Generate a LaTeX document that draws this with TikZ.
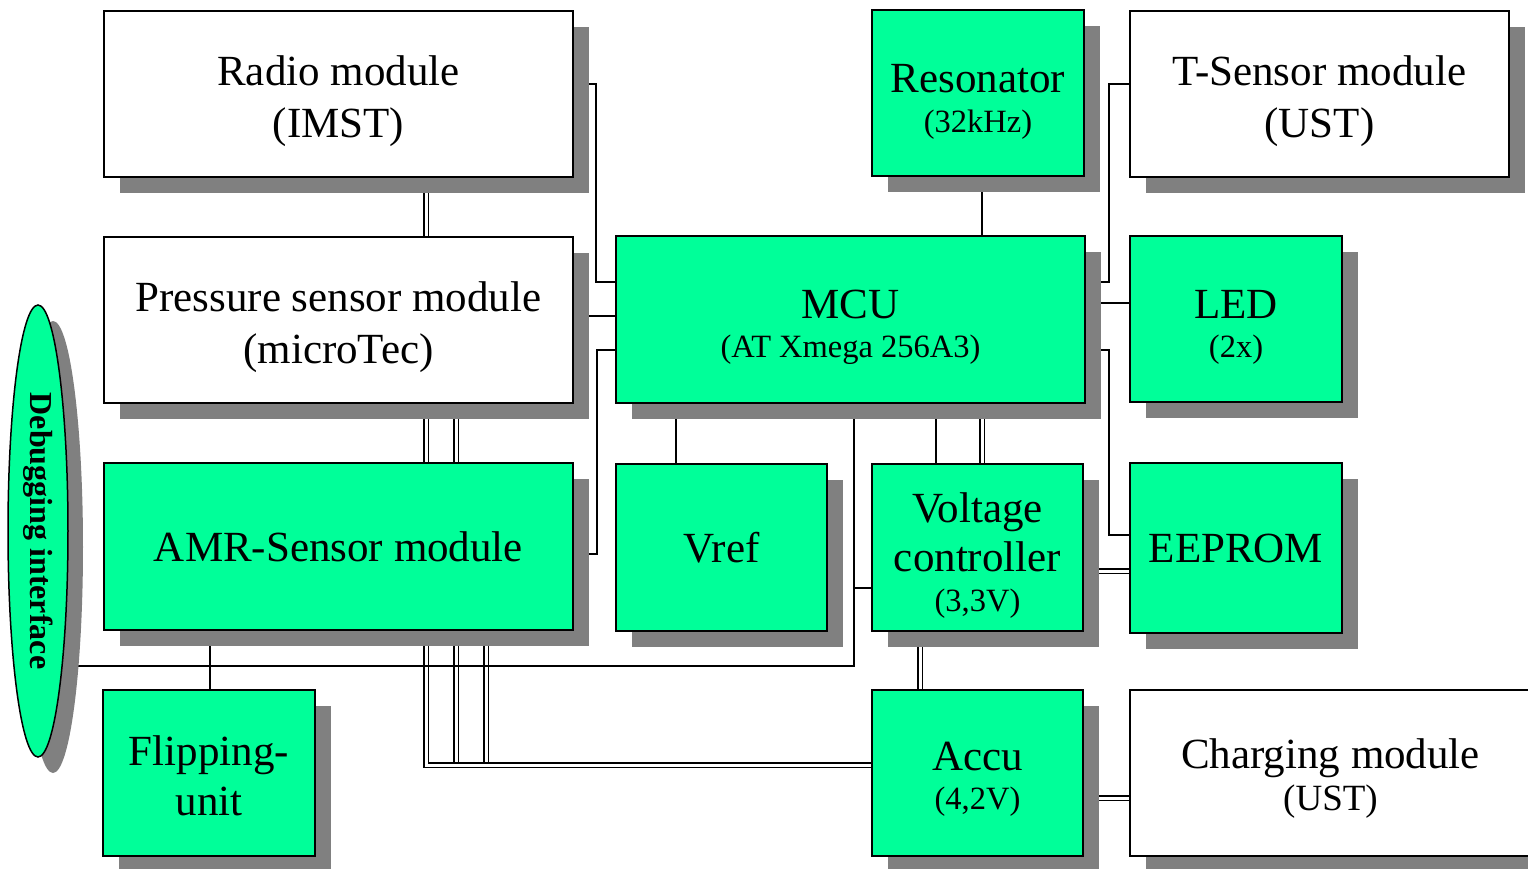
\documentclass[tikz,border=0pt]{standalone}
\usepackage{fontspec}
\setmainfont{Liberation Serif}
\usetikzlibrary{shapes.geometric,calc}
\definecolor{boxgreen}{RGB}{0,255,153}
\definecolor{shadowgray}{RGB}{128,128,128}
\pgfdeclarelayer{background}
\pgfsetlayers{background,main}
\newcommand{\bigf}{\fontsize{43}{52}\selectfont}
\newcommand{\smf}{\fontsize{32.5}{38}\selectfont}
\newcommand{\midf}{\fontsize{37}{42}\selectfont}
\newcommand{\up}{\rule{0pt}{45pt}}
\begin{document}
\begin{tikzpicture}[x=1pt,y=-1pt,
  box/.style={draw=black, line width=1.5pt, inner sep=0pt, outer sep=0pt, align=center, font=\bigf,
    preaction={fill=shadowgray, draw=none, transform canvas={shift={(16pt,-16pt)}}}},
  gbox/.style={box, fill=boxgreen},
  wbox/.style={box, fill=white},
  wire/.style={line width=1.3pt, draw=black},
  bus/.style={draw=black, double=white, double distance=3pt, line width=1.3pt}]
\useasboundingbox (0,0) rectangle (1528,869);

% boxes
\node[wbox, minimum width=469pt, minimum height=166pt] (radio) at (338.5,94) {\up Radio module\\(IMST)};
\node[wbox, minimum width=469pt, minimum height=166pt] (press) at (338.5,320) {\up Pressure sensor module\\(microTec)};
\node[gbox, minimum width=469pt, minimum height=167pt] (amr) at (338.5,546.5) {AMR-Sensor module};
\node[gbox, minimum width=212pt, minimum height=166pt] (flip) at (209,773) {\rule{0pt}{36pt}Flipping-\\[-2pt]unit};
\node[gbox, minimum width=212pt, minimum height=166pt] (reson) at (978,93) {\up Resonator\\[-12pt]{\smf (32kHz)}};
\node[wbox, minimum width=379pt, minimum height=166pt] (tsens) at (1319.5,94) {\up T-Sensor module\\(UST)};
\node[gbox, minimum width=469pt, minimum height=167pt] (mcu) at (850.5,319.5) {\up MCU\\[-13pt]{\smf (AT Xmega 256A3)}};
\node[gbox, minimum width=212pt, minimum height=166pt] (led) at (1236,319) {\up LED\\[-13pt]{\smf (2x)}};
\node[gbox, minimum width=211pt, minimum height=167pt] (vref) at (721.5,547.5) {Vref};
\node[gbox, minimum width=211pt, minimum height=167pt] (volt) at (977.5,547.5) {\rule{0pt}{46pt}Voltage\\[-3pt]controller\\[-12pt]{\smf (3,3V)}};
\node[gbox, minimum width=212pt, minimum height=170pt] (eeprom) at (1236,548) {EEPROM};
\node[gbox, minimum width=211pt, minimum height=166pt] (accu) at (977.5,773) {\rule{0pt}{41pt}Accu\\[-13pt]{\smf (4,2V)}};
\node[wbox, minimum width=401pt, minimum height=166pt] (charge) at (1330.5,773) {\rule{0pt}{40pt}Charging module\\[-10pt]{\midf (UST)}};

% debugging interface
\node[ellipse, draw=black, line width=1.5pt, fill=boxgreen, minimum width=60pt, minimum height=452pt, inner sep=0pt, outer sep=0pt,
  preaction={fill=shadowgray, draw=none, transform canvas={shift={(15pt,-16pt)}}}] (debug) at (38,531) {};
\node[rotate=-90, font=\bfseries\fontsize{32}{38}\selectfont, inner sep=0pt] (debuglabel) at (debug.center) {Debugging interface};

\begin{pgfonlayer}{background}
  % left side to MCU
  \draw[wire] (radio.east |- 0,84) -| (596,282) -- (mcu.west |- 0,282);
  \draw[wire] (press.east |- 0,316) -- (mcu.west |- 0,316);
  \draw[wire] (amr.east |- 0,554) -| (597,350) -- (mcu.west |- 0,350);
  % right side to MCU
  \draw[wire] (tsens.west |- 0,84) -| (1109,282) -- (mcu.east |- 0,282);
  \draw[wire] (mcu.east |- 0,303) -- (led.west |- 0,303);
  \draw[wire] (mcu.east |- 0,350) -| (1109,535) -- (eeprom.west |- 0,535);
  \draw[bus] (volt.east |- 0,571) -- (eeprom.west |- 0,571);
  % vertical
  \draw[wire] (reson.south -| 982,0) -- (mcu.north -| 982,0);
  \draw[wire] (mcu.south -| 676,0) -- (vref.north -| 676,0);
  \draw[wire] (mcu.south -| 936,0) -- (volt.north -| 936,0);
  \draw[bus] (mcu.south -| 982,0) -- (volt.north -| 982,0);
  \draw[bus] (volt.south -| 920,0) -- (accu.north -| 920,0);
  \draw[bus] (accu.east |- 0,798) -- (charge.west |- 0,798);
  \draw[bus] (radio.south -| 426,0) -- (press.north -| 426,0);
  \draw[bus] (press.south -| 426,0) -- (amr.north -| 426,0);
  \draw[bus] (press.south -| 456,0) -- (amr.north -| 456,0);
  % bus to accu
  \draw[bus] (amr.south -| 456,0) -- (456,765);
  \draw[bus] (amr.south -| 486,0) -- (486,765);
  \draw[bus] (amr.south -| 426,0) -- (426,765) -- (accu.west |- 0,765);
  % debugging line
  \coordinate (dbranch) at (854,588);
  \draw[wire] (debug.center |- 0,666) -| (mcu.south -| 854,0);
  \draw[wire] (dbranch) -- (volt.west |- dbranch);
  \draw[wire] (amr.south -| 210,0) -- (flip.north -| 210,0);
\end{pgfonlayer}
\end{tikzpicture}
\end{document}
